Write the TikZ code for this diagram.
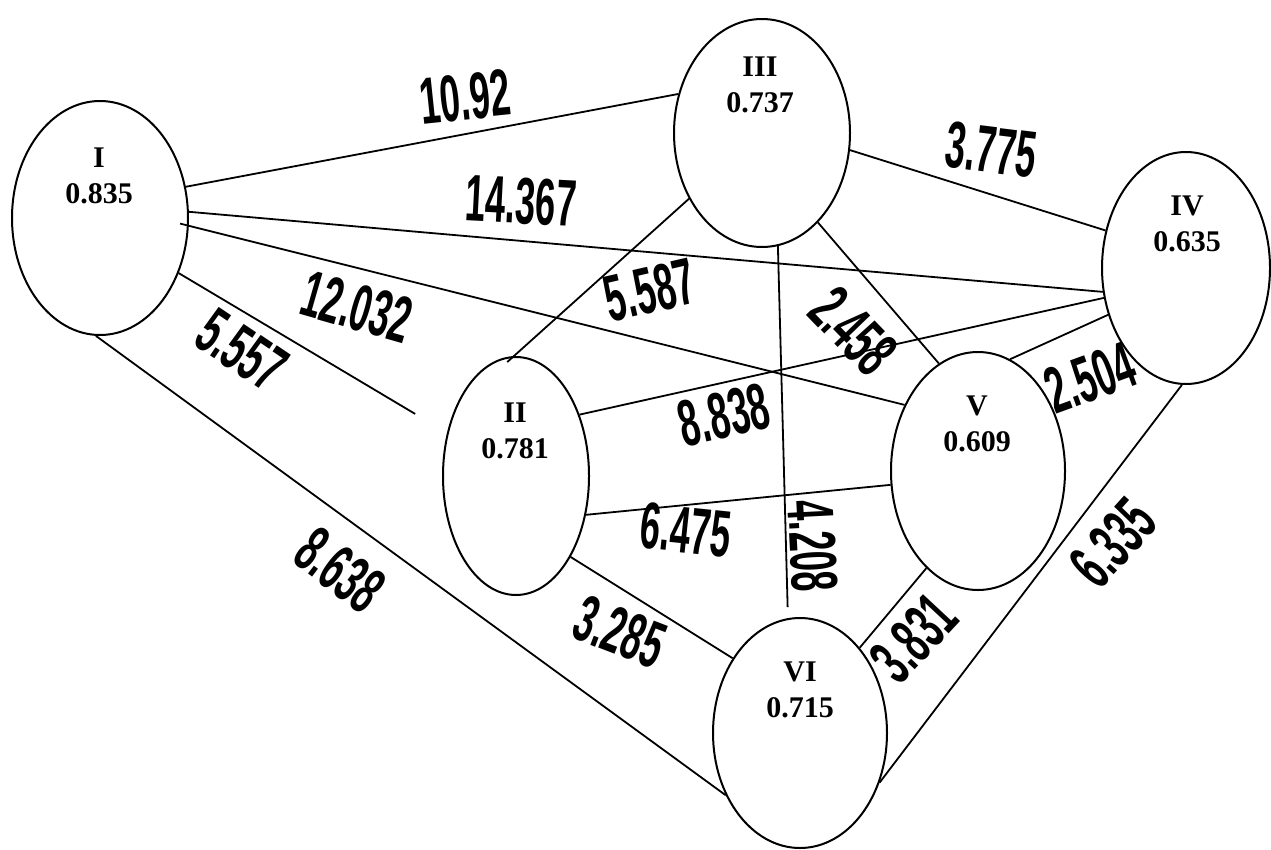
\documentclass[tikz,border=0pt]{standalone}
\usepackage{fontspec}
\usepackage{graphicx}
\setmainfont{Liberation Serif}
\newfontfamily\labfont{Liberation Sans}
\usetikzlibrary{shapes.geometric}
\tikzset{
  ell/.style={draw, ellipse, line width=2pt, inner sep=0pt},
  conn/.style={line width=1.8pt},
  nlab/.style={align=center, font=\fontsize{30}{36}\selectfont\bfseries, inner sep=0pt},
  elab/.style={font=\labfont\fontsize{66}{66}\selectfont\bfseries, inner sep=0pt},
}
\newcommand\sq[1]{\scalebox{0.55}[1]{#1}}
\begin{document}
\begin{tikzpicture}[x=1pt,y=-1pt]
\useasboundingbox (0,0) rectangle (1271,849);
\fill[white] (0,0) rectangle (1271,849);
% ellipses
\node[ell, minimum width=176pt, minimum height=234pt] (I) at (100,218) {};
\node[ell, minimum width=176pt, minimum height=228pt] (III) at (762,133) {};
\node[ell, minimum width=168pt, minimum height=232pt] (IV) at (1186,268) {};
\node[ell, minimum width=146pt, minimum height=238pt] (II) at (516,476) {};
\node[ell, minimum width=174pt, minimum height=238pt] (V) at (978,471) {};
\node[ell, minimum width=174pt, minimum height=230pt] (VI) at (800,733) {};
% node texts
\node[nlab] (tI) at (99,176) {I\\0.835};
\node[nlab] (tIII) at (760,85) {III\\0.737};
\node[nlab] (tIV) at (1187,224) {IV\\0.635};
\node[nlab] (tII) at (515,431) {II\\0.781};
\node[nlab] (tV) at (977,424) {V\\0.609};
\node[nlab] (tVI) at (800,690) {VI\\0.715};
% connectors
\draw[conn] (I.20) -- (III.155);
\draw[conn] (I.4) -- (IV.196);
\draw[conn, shorten <=-9pt] (I.-5) -- (V.138);
\draw[conn, shorten >=37pt] (I.-35) -- (II.148);
\draw[conn] (I.-92) -- (VI.220);
\draw[conn] (III.-11) -- (IV.155);
\draw[conn, shorten >=-9pt] (III.222) -- (II.91);
\draw[conn, shorten >=11pt] (III.-82) -- (VI.96);
\draw[conn] (III.-58) -- (V.110);
\draw[conn] (IV.200) -- (II.44);
\draw[conn] (IV.211) -- (V.74);
\draw[conn] (IV.268) -- (VI.-32);
\draw[conn] (V.189) -- (II.-29);
\draw[conn] (V.242) -- (VI.55);
\draw[conn] (II.-56) -- (VI.132);
% edge labels
\node[elab, rotate=6] (l1) at (465,97) {\sq{10.92}};
\node[elab, rotate=-3] (l2) at (521,201) {\sq{14.367}};
\node[elab, rotate=-16] (l3) at (357,307) {\sq{12.032}};
\node[elab, rotate=-34] (l4) at (242,350) {\sq{5.557}};
\node[elab, rotate=13] (l5) at (650,290) {\sq{5.587}};
\node[elab, rotate=-46] (l6) at (853,331) {\sq{2.458}};
\node[elab, rotate=13] (l7) at (724,415) {\sq{8.838}};
\node[elab, rotate=-6] (l8) at (686,530) {\sq{6.475}};
\node[elab, rotate=-87] (l9) at (813,546) {\sq{4.208}};
\node[elab, rotate=20] (l10) at (1090,378) {\sq{2.504}};
\node[elab, rotate=-7] (l11) at (991,150) {\sq{3.775}};
\node[elab, rotate=48] (l12) at (1113,543) {\sq{6.335}};
\node[elab, rotate=47] (l13) at (914,638) {\sq{3.831}};
\node[elab, rotate=-37] (l14) at (340,570) {\sq{8.638}};
\node[elab, rotate=-21] (l15) at (620,632) {\sq{3.285}};
\end{tikzpicture}
\end{document}
